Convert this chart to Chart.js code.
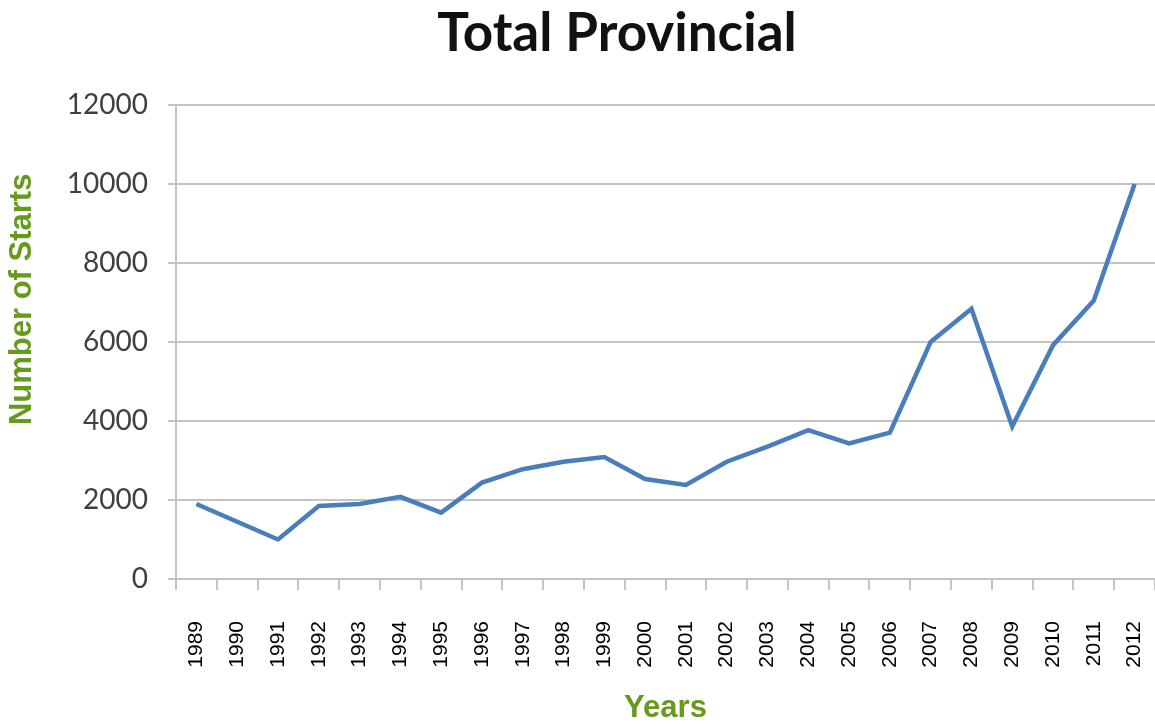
<!DOCTYPE html>
<html>
<head>
<meta charset="utf-8">
<script src="https://cdn.jsdelivr.net/npm/chart.js@4"></script>
<style>
  html, body { margin: 0; padding: 0; background: #fff; }
  #wrap { width: 1155px; height: 727px; }
</style>
</head>
<body>
<div id="wrap"><canvas id="chart" width="1155" height="727"></canvas></div>
<script>
// Years on the x axis
const years = ["1989", "1990", "1991", "1992", "1993", "1994", "1995", "1996", "1997", "1998", "1999", "2000",
  "2001", "2002", "2003", "2004", "2005", "2006", "2007", "2008", "2009", "2010", "2011", "2012"];

// Number of starts
const starts = [1900, 1450, 1000, 1850, 1900, 2080, 1680, 2440, 2780, 2970, 3090, 2530,
  2380, 2970, 3350, 3770, 3435, 3705, 6000, 6840, 3860, 5920, 7050, 10000];

// y axis range
const yMin = 0, yMax = 12000, yStep = 2000;

const chartTitle = 'Total Provincial';
const yTitle = 'Number of Starts';
const xTitle = 'Years';

const green = "#669a1c";
const gridGray = "#c4c4c4";

// Title and y axis title are drawn by hand so they can sit off-centre like the original
const textPlugin = {
  id: 'textPlugin',
  afterDraw(chart) {
    const c = chart.ctx;
    const area = chart.chartArea;
    c.save();
    c.fillStyle = '#111';
    c.font = "bold 53px Lato";
    c.textAlign = 'center';
    c.textBaseline = 'middle';
    c.fillText(chartTitle, 617, 34);

    c.translate(22, area.top + area.height * 0.41);
    c.rotate(-Math.PI / 2);
    c.fillStyle = green;
    c.font = "bold 31px 'Liberation Sans', Arial";
    c.fillText(yTitle, 0, 0);
    c.restore();
  }
};

const ctx = document.getElementById('chart').getContext('2d');
new Chart(ctx, {
  type: 'line',
  data: {
    labels: years,
    datasets: [{
      label: chartTitle,
      data: starts,
      borderColor: '#4a7ebb',
      borderWidth: 4.5,
      pointRadius: 0,
      tension: 0,
      fill: false
    }]
  },
  options: {
    responsive: false,
    animation: false,
    layout: { padding: { top: 105, left: 0, right: 0, bottom: 0 } },
    plugins: {
      legend: { display: false },
      tooltip: { enabled: false },
      title: { display: false }
    },
    scales: {
      x: {
        offset: true,
        grid: { offset: true, drawOnChartArea: false, drawTicks: true, tickLength: 11, color: gridGray, lineWidth: 2 },
        border: { display: true, color: gridGray, width: 2 },
        ticks: {
          color: '#000',
          minRotation: 90, maxRotation: 90,
          padding: 31,
          autoSkip: false,
          font: { family: "'Liberation Sans Narrow', 'Liberation Sans', Arial", size: 21 }
        },
        title: {
          display: true,
          text: xTitle,
          color: green,
          font: { family: "'Liberation Sans', Arial", size: 31, weight: 'bold' },
          padding: { top: 0, bottom: 0 }
        },
        afterFit: (scale) => { scale.height = 148; scale.paddingRight = 0; scale.paddingLeft = 0; }
      },
      y: {
        min: yMin, max: yMax,
        grid: { drawTicks: true, tickLength: 8, color: gridGray, lineWidth: 2 },
        border: { display: true, color: gridGray, width: 2 },
        ticks: {
          stepSize: yStep,
          color: '#404040',
          padding: 20,
          font: { family: 'Lato', size: 28 },
          callback: (v) => String(v)
        },
        afterFit: (scale) => { scale.width = 176; scale.paddingTop = 0; }
      }
    }
  },
  plugins: [textPlugin]
});
</script>
</body>
</html>
